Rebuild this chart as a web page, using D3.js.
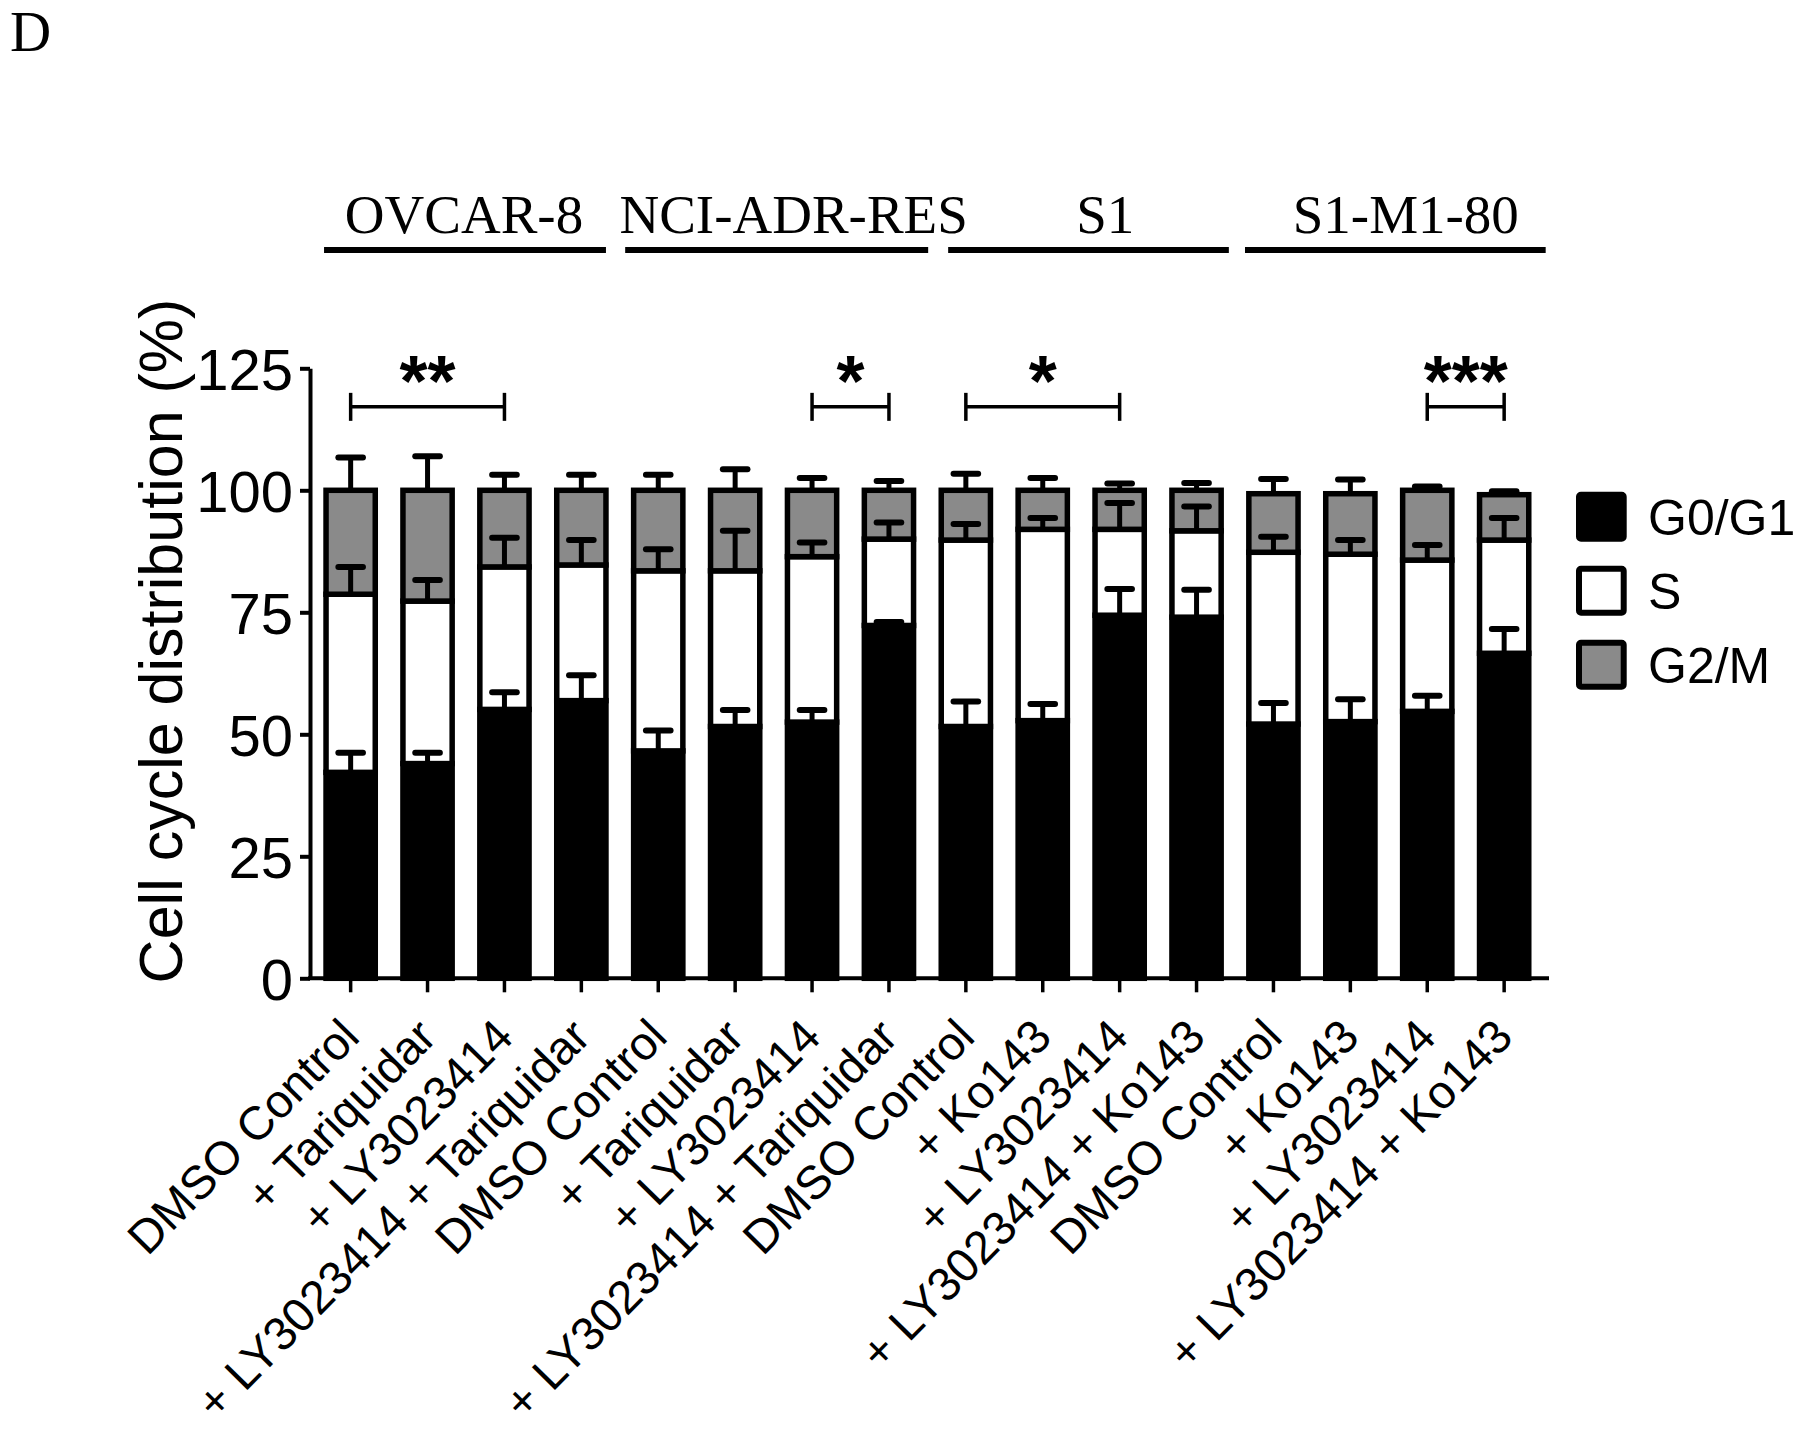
<!DOCTYPE html>
<html><head><meta charset="utf-8">
<script src="https://cdn.jsdelivr.net/npm/d3@7"></script>
<style>body{margin:0;background:#fff} svg{display:block}</style>
</head><body>
<svg id="c" width="1800" height="1442"></svg>
<script>
// ---------- data ----------
const categories = [
  "DMSO Control", "+ Tariquidar", "+ LY3023414", "+ LY3023414 + Tariquidar",
  "DMSO Control", "+ Tariquidar", "+ LY3023414", "+ LY3023414 + Tariquidar",
  "DMSO Control", "+ Ko143", "+ LY3023414", "+ LY3023414 + Ko143",
  "DMSO Control", "+ Ko143", "+ LY3023414", "+ LY3023414 + Ko143"
];
const cellLines = ["OVCAR-8", "NCI-ADR-RES", "S1", "S1-M1-80"];
const cellLineFirst = [0, 4, 8, 12];
const cellLineLast = [3, 7, 11, 15];
const phases = ["G0/G1", "S", "G2/M"];
const g0g1 = [42.2, 44.0, 55.1, 56.9, 46.6, 51.6, 52.5, 72.3, 51.6, 52.8, 74.4, 74.0, 52.1, 52.6, 54.7, 66.6];
const g0g1Err = [4.0, 2.2, 3.5, 5.2, 4.2, 3.4, 2.5, 0.7, 5.1, 3.4, 5.4, 5.6, 4.3, 4.6, 3.2, 5.0];
const sPhase = [36.5, 33.3, 29.2, 27.8, 36.9, 31.9, 33.9, 17.7, 38.2, 39.2, 17.6, 17.7, 35.2, 34.3, 31.0, 23.2];
const sErr = [5.6, 4.3, 6.0, 5.1, 4.4, 8.2, 2.9, 3.4, 3.3, 2.3, 5.4, 5.0, 3.2, 2.9, 3.1, 4.5];
const g2m = [21.3, 22.7, 15.7, 15.3, 16.5, 16.5, 13.6, 10.0, 10.2, 8.0, 8.0, 8.3, 12.0, 12.4, 14.3, 9.3];
const g2mErr = [6.7, 7.0, 3.2, 3.2, 3.2, 4.3, 2.5, 1.9, 3.4, 2.5, 1.4, 1.5, 3.0, 2.9, 0.8, 0.7];
const yTicks = [0, 25, 50, 75, 100, 125];
const sigFrom = [0, 6, 8, 14];
const sigTo = [2, 7, 10, 15];
const sigLabels = ["**", "*", "*", "***"];
const yTitle = "Cell cycle distribution (%)";
const panelLetter = "D";

// ---------- layout / style ----------
const SANS = "Arial, 'Liberation Sans', Helvetica, sans-serif";
const SERIF = "'Times New Roman', 'Liberation Serif', Times, serif";
const colors = {"G0/G1": "#000000", "S": "#ffffff", "G2/M": "#8a8a8a"};
const titleShift = [-2, 20, 24, 17];
const lineStartOff = [-0.346, -0.43, -0.23, -0.37];
const lineEndOff = [0.32, 0.51, 0.42, 0.54];

const svg = d3.select("#c");
const x = d3.scaleBand().domain(d3.range(categories.length))
  .range([312.2, 1542.6]).paddingInner(0.36).paddingOuter(0.18);
const y = d3.scaleLinear().domain([0, 125]).range([978.3, 368.3]);
const cx = i => x(i) + x.bandwidth() / 2;
const step = x.step();

// stacked data
const rows = categories.map((c, i) => ({i, "G0/G1": g0g1[i], "S": sPhase[i], "G2/M": g2m[i]}));
const stack = d3.stack().keys(phases)(rows);
const errs = {"G0/G1": g0g1Err, "S": sErr, "G2/M": g2mErr};

// panel letter
svg.append("text").attr("x", 10).attr("y", 51)
  .attr("font-family", SERIF).attr("font-size", 57).text(panelLetter);

// bars
const layers = svg.append("g").selectAll("g").data(stack).join("g")
  .attr("fill", d => colors[d.key]);
layers.selectAll("rect").data(d => d).join("rect")
  .attr("x", d => x(d.data.i))
  .attr("width", x.bandwidth())
  .attr("y", d => y(d[1]))
  .attr("height", d => y(d[0]) - y(d[1]))
  .attr("stroke", "#000").attr("stroke-width", 5.5);

// error bars (upper)
const eg = svg.append("g").attr("stroke", "#000");
stack.forEach(layer => {
  layer.forEach((d, i) => {
    const top = d[1], e = errs[layer.key][i];
    eg.append("line").attr("x1", cx(i)).attr("x2", cx(i))
      .attr("y1", y(top)).attr("y2", y(top + e)).attr("stroke-width", 5);
    eg.append("line").attr("x1", cx(i) - 12.3).attr("x2", cx(i) + 12.3)
      .attr("y1", y(top + e)).attr("y2", y(top + e))
      .attr("stroke-width", 6).attr("stroke-linecap", "round");
  });
});

// y axis
const yAxis = svg.append("g").attr("transform", "translate(310,0)")
  .call(d3.axisLeft(y).tickValues(yTicks).tickSize(10).tickSizeOuter(0).tickPadding(7));
yAxis.select(".domain").attr("stroke-width", 4);
yAxis.selectAll(".tick line").attr("stroke-width", 4);
yAxis.selectAll(".tick text").attr("font-family", SANS).attr("font-size", 58)
  .attr("dy", "0.36em").attr("fill", "#000");

// x axis
const xAxis = svg.append("g").attr("transform", `translate(0,${y(0)})`)
  .call(d3.axisBottom(x).tickSize(14).tickSizeOuter(0).tickFormat(""));
xAxis.select(".domain").remove();
xAxis.selectAll(".tick line").attr("stroke-width", 3.5);
svg.append("line").attr("x1", 308).attr("x2", 1549).attr("y1", y(0)).attr("y2", y(0))
  .attr("stroke", "#000").attr("stroke-width", 4);

// x labels
svg.append("g").selectAll("text").data(categories).join("text")
  .attr("transform", (d, i) => `translate(${cx(i) + 11},1039) rotate(-45.5)`)
  .attr("text-anchor", "end").attr("font-family", SANS).attr("font-size", 47)
  .text(d => d);

// y title
svg.append("text").attr("transform", "translate(181.7,641) rotate(-90)")
  .attr("text-anchor", "middle").attr("font-family", SANS).attr("font-size", 61)
  .text(yTitle);

// cell line headers
cellLines.forEach((name, k) => {
  const a = cellLineFirst[k], b = cellLineLast[k];
  const x1 = cx(a) + lineStartOff[k] * step, x2 = cx(b) + lineEndOff[k] * step;
  svg.append("line").attr("x1", x1).attr("x2", x2).attr("y1", 250).attr("y2", 250)
    .attr("stroke", "#000").attr("stroke-width", 6);
  svg.append("text").attr("x", (cx(a) + cx(b)) / 2 + titleShift[k]).attr("y", 233)
    .attr("text-anchor", "middle").attr("font-family", SERIF).attr("font-size", 55)
    .text(name);
});

// significance brackets
const bY = y(117.1);
sigLabels.forEach((lab, k) => {
  const xa = cx(sigFrom[k]), xb = cx(sigTo[k]);
  const g = svg.append("g").attr("stroke", "#000").attr("stroke-width", 3.5);
  g.append("line").attr("x1", xa).attr("x2", xb).attr("y1", bY).attr("y2", bY);
  g.append("line").attr("x1", xa).attr("x2", xa).attr("y1", bY - 14).attr("y2", bY + 14);
  g.append("line").attr("x1", xb).attr("x2", xb).attr("y1", bY - 14).attr("y2", bY + 14);
  svg.append("text").attr("x", (xa + xb) / 2).attr("y", 406)
    .attr("text-anchor", "middle").attr("font-family", SANS).attr("font-size", 72)
    .attr("font-weight", "bold").text(lab);
});

// legend
const lg = svg.append("g");
phases.forEach((p, k) => {
  const cy = 516.7 + k * 74;
  lg.append("rect").attr("x", 1579).attr("y", cy - 22).attr("width", 44.7).attr("height", 44)
    .attr("rx", 2).attr("fill", colors[p]).attr("stroke", "#000").attr("stroke-width", 6);
  lg.append("text").attr("x", 1648).attr("y", cy + 18)
    .attr("font-family", SANS).attr("font-size", 50).text(p);
});
</script>
</body></html>
